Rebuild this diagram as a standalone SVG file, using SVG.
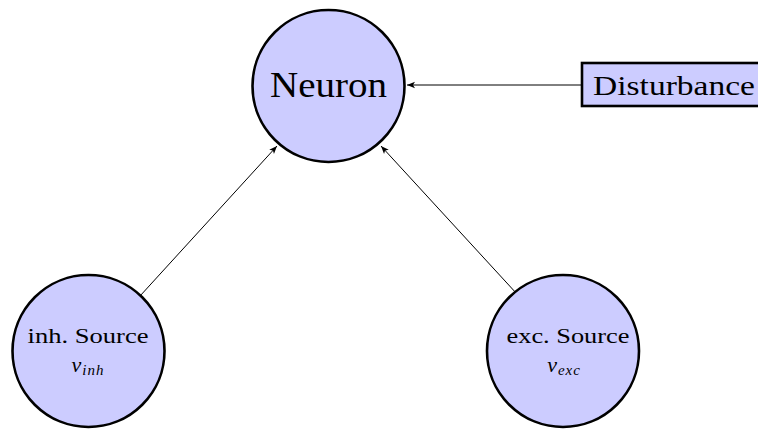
<svg xmlns="http://www.w3.org/2000/svg" width="758" height="431" viewBox="0 0 758 431">
<style>
.node{fill:#ccccff;stroke:#000;stroke-width:2.6}
.lbl{font-family:"Liberation Serif","DejaVu Serif",serif;fill:#000;text-anchor:middle}
.edge{stroke:#000;stroke-width:1;fill:none;marker-end:url(#ah)}
</style>
<defs>
<marker id="ah" viewBox="0 0 10 10" refX="10" refY="5" markerWidth="8" markerHeight="8" markerUnits="userSpaceOnUse" orient="auto">
<path d="M0,1 L10,5 L0,9 L2.5,5 Z" fill="#000"/>
</marker>
</defs>
<rect width="758" height="431" fill="#fff"/>
<g id="connectors">
<line class="edge" x1="582" y1="85" x2="407" y2="85"/>
<line class="edge" x1="140" y1="296" x2="277" y2="146"/>
<line class="edge" x1="517" y1="294" x2="381" y2="146"/>
</g>
<g id="neuron">
<circle class="node" cx="328.5" cy="86" r="76"/>
<text class="lbl" x="328.5" y="97" font-size="36" textLength="117" lengthAdjust="spacingAndGlyphs">Neuron</text>
</g>
<g id="disturbance">
<rect class="node" x="582" y="63" width="186" height="43"/>
<text class="lbl" x="674" y="95" font-size="28" textLength="162" lengthAdjust="spacingAndGlyphs">Disturbance</text>
</g>
<g id="inh">
<circle class="node" cx="88.5" cy="351" r="76"/>
<text class="lbl" x="88" y="343" font-size="20" textLength="121" lengthAdjust="spacingAndGlyphs">inh. Source</text>
<text class="lbl" x="88" y="372" font-size="22" font-style="italic" letter-spacing="1">ν<tspan font-size="15" dy="3">inh</tspan></text>
</g>
<g id="exc">
<circle class="node" cx="563" cy="351" r="76"/>
<text class="lbl" x="568" y="343" font-size="20" textLength="123" lengthAdjust="spacingAndGlyphs">exc. Source</text>
<text class="lbl" x="564" y="372" font-size="22" font-style="italic" letter-spacing="1">ν<tspan font-size="15" dy="3">exc</tspan></text>
</g>
</svg>
